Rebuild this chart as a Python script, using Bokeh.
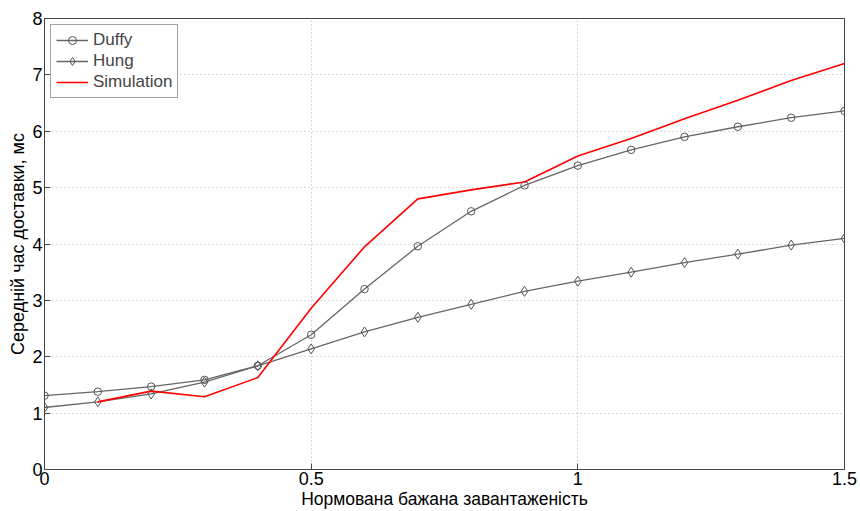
from bokeh.plotting import figure
from bokeh.models import Range1d, FixedTicker, NumeralTickFormatter, Legend, LegendItem
from bokeh.embed import file_html
from bokeh.resources import INLINE

x_vals = [0.0, 0.1, 0.2, 0.3, 0.4, 0.5, 0.6, 0.7, 0.8, 0.9, 1.0, 1.1, 1.2, 1.3, 1.4, 1.5]
duffy = [1.31, 1.38, 1.47, 1.59, 1.84, 2.39, 3.20, 3.96, 4.58, 5.04, 5.39, 5.67, 5.90, 6.08, 6.24, 6.36]
hung = [1.10, 1.20, 1.34, 1.55, 1.84, 2.14, 2.44, 2.70, 2.93, 3.16, 3.34, 3.50, 3.67, 3.82, 3.98, 4.10]
sim_x = [0.1, 0.2, 0.3, 0.4, 0.5, 0.6, 0.7, 0.8, 0.9, 1.0, 1.1, 1.2, 1.3, 1.4, 1.5]
simulation = [1.20, 1.39, 1.29, 1.63, 2.86, 3.95, 4.80, 4.96, 5.10, 5.56, 5.87, 6.22, 6.55, 6.90, 7.20]

x_ticks = [0, 0.5, 1, 1.5]
y_ticks = [0, 1, 2, 3, 4, 5, 6, 7, 8]

FONT = "Liberation Sans"

p = figure(width=860, height=511, output_backend="svg", toolbar_location=None,
           x_range=Range1d(0, 1.5), y_range=Range1d(0, 8),
           min_border_left=44, min_border_right=16, min_border_top=18, min_border_bottom=40)
p.background_fill_color = "white"
p.border_fill_color = "white"
p.outline_line_color = "#444444"
p.outline_line_width = 1

for ax in (p.xaxis[0], p.yaxis[0]):
    ax.major_tick_in = 6
    ax.major_tick_out = 0
    ax.minor_tick_in = 0
    ax.minor_tick_out = 0
    ax.axis_line_color = "#444444"
    ax.major_tick_line_color = "#444444"
    ax.major_label_text_font = FONT
    ax.major_label_text_font_size = "18px"
    ax.major_label_text_color = "black"
    ax.axis_label_text_font = FONT
    ax.axis_label_text_font_style = "normal"
    ax.axis_label_text_color = "black"
    ax.major_label_standoff = 2
    ax.axis_label_standoff = 1

p.xaxis.axis_label_text_font_size = "17.5px"
p.yaxis.axis_label_text_font_size = "18px"

p.xaxis.ticker = FixedTicker(ticks=x_ticks)
p.yaxis.ticker = FixedTicker(ticks=y_ticks)
p.xaxis.formatter = NumeralTickFormatter(format="0.[0]")
p.yaxis.formatter = NumeralTickFormatter(format="0")
p.xaxis.axis_label = "Нормована бажана завантаженість"
p.yaxis.axis_label = "Середній час доставки, мс"

p.grid.grid_line_color = "#b0b0b0"
p.grid.grid_line_dash = "1 3"
p.grid.grid_line_width = 1

line_col = "#666666"
d_line = p.line(x_vals, duffy, line_color=line_col, line_width=1.3)
d_mark = p.scatter(x_vals, duffy, marker="circle", size=7.5, fill_color=None,
                   line_color="#555555", line_width=1)
h_line = p.line(x_vals, hung, line_color=line_col, line_width=1.3)
h_mark = p.scatter(x_vals, hung, marker="diamond", size=10, fill_color=None,
                   line_color="#555555", line_width=1)
s_line = p.line(sim_x, simulation, line_color="#ff0000", line_width=1.6)

legend = Legend(items=[
    LegendItem(label="Duffy", renderers=[d_line, d_mark]),
    LegendItem(label="Hung", renderers=[h_line, h_mark]),
    LegendItem(label="Simulation", renderers=[s_line]),
], location="top_left")
legend.label_text_font = FONT
legend.label_text_font_size = "17px"
legend.label_height = 20
legend.glyph_height = 20
legend.glyph_width = 32
legend.spacing = 1
legend.padding = 5
legend.margin = 6
legend.border_line_color = "#444444"
legend.border_line_width = 1
legend.background_fill_alpha = 1.0
p.add_layout(legend)

open("out.html", "w").write(file_html(p, INLINE))
